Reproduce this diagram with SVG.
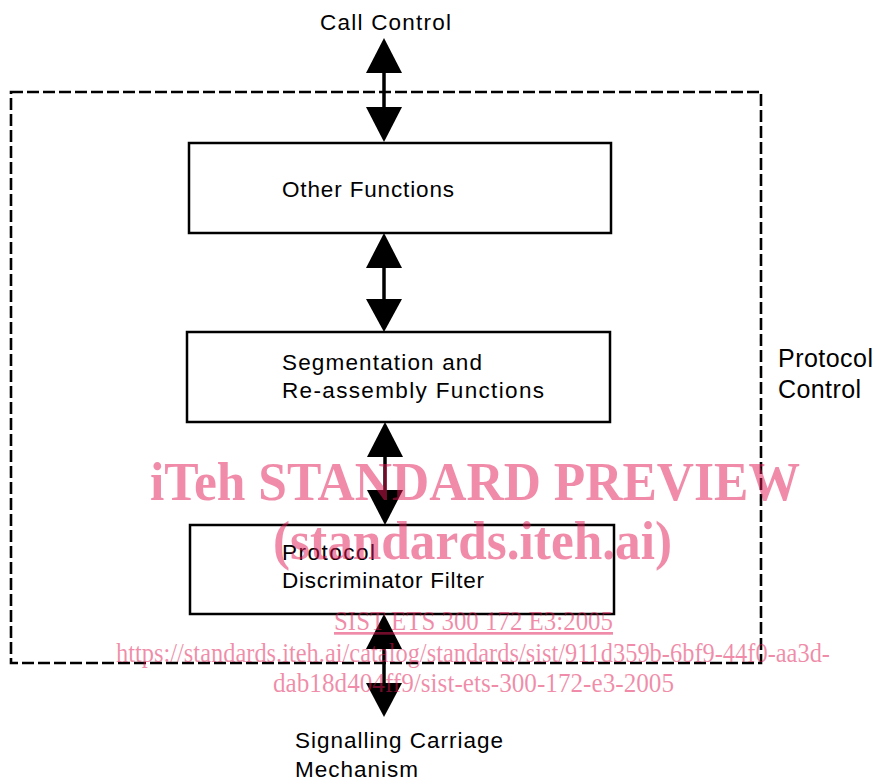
<svg xmlns="http://www.w3.org/2000/svg" width="877" height="783" viewBox="0 0 877 783">
<defs>
<style>
.box{fill:#fff;stroke:#000;stroke-width:2.5}
.lbl{font-family:"Liberation Sans",Arial,sans-serif;font-size:22.5px;fill:#000}
.side{font-family:"Liberation Sans",Arial,sans-serif;font-size:25px;fill:#000}
.shaft{stroke:#000;stroke-width:3.5}
.head{fill:#000}
.wm{font-family:"Liberation Serif","Times New Roman",serif;fill:rgb(225,25,85);fill-opacity:0.5}
.wmb{font-weight:bold;font-size:54px}
.wms{font-size:27px}
</style>
</defs>
<rect width="877" height="783" fill="#fff"/>
<g id="protocol-control">
<rect x="11" y="92" width="750" height="571" fill="none" stroke="#000" stroke-width="2.6" stroke-dasharray="12 4"/>
<text class="side" x="778" y="367" textLength="95" lengthAdjust="spacing">Protocol</text>
<text class="side" x="778" y="398" textLength="83" lengthAdjust="spacing">Control</text>
</g>
<g id="connectors">
<line class="shaft" x1="384" y1="70" x2="384" y2="110"/>
<polygon class="head" points="384,38 366,73 402,73"/>
<polygon class="head" points="384,142 366,107 402,107"/>
<line class="shaft" x1="384" y1="265" x2="384" y2="302"/>
<polygon class="head" points="384,233 366,268 402,268"/>
<polygon class="head" points="384,332 366,299 402,299"/>
<line class="shaft" x1="385" y1="455" x2="385" y2="493"/>
<polygon class="head" points="385,422 367,457 403,457"/>
<polygon class="head" points="385,525 367,490 403,490"/>
<line class="shaft" x1="384" y1="646" x2="384" y2="686"/>
<polygon class="head" points="384,614 366,649 402,649"/>
<polygon class="head" points="384,717 366,683 402,683"/>
</g>
<g id="call-control">
<text class="lbl" x="320" y="30" textLength="131" lengthAdjust="spacing">Call Control</text>
</g>
<g id="other-functions">
<rect class="box" x="189" y="143" width="422" height="90"/>
<text class="lbl" x="282" y="197" textLength="172" lengthAdjust="spacing">Other Functions</text>
</g>
<g id="segmentation">
<rect class="box" x="187" y="332" width="423" height="90"/>
<text class="lbl" x="282" y="370" textLength="200" lengthAdjust="spacing">Segmentation and</text>
<text class="lbl" x="282" y="398" textLength="262" lengthAdjust="spacing">Re-assembly Functions</text>
</g>
<g id="discriminator">
<rect class="box" x="190" y="525" width="424" height="89"/>
<text class="lbl" x="282" y="560" textLength="93" lengthAdjust="spacing">Protocol</text>
<text class="lbl" x="282" y="588" textLength="202" lengthAdjust="spacing">Discriminator Filter</text>
</g>
<g id="signalling">
<text class="lbl" x="295" y="748" textLength="208" lengthAdjust="spacing">Signalling Carriage</text>
<text class="lbl" x="295" y="777" textLength="123" lengthAdjust="spacing">Mechanism</text>
</g>
<g id="watermark">
<text class="wm wmb" x="150" y="500" textLength="650" lengthAdjust="spacingAndGlyphs">iTeh STANDARD PREVIEW</text>
<text class="wm wmb" x="273" y="559" textLength="399" lengthAdjust="spacingAndGlyphs">(standards.iteh.ai)</text>
<text class="wm wms" x="334" y="630" textLength="279" lengthAdjust="spacingAndGlyphs" text-decoration="underline">SIST ETS 300 172 E3:2005</text>
<text class="wm wms" x="116" y="662" textLength="714" lengthAdjust="spacingAndGlyphs">https://standards.iteh.ai/catalog/standards/sist/911d359b-6bf9-44f0-aa3d-</text>
<text class="wm wms" x="273" y="692" textLength="401" lengthAdjust="spacingAndGlyphs">dab18d404ff9/sist-ets-300-172-e3-2005</text>
</g>
</svg>
